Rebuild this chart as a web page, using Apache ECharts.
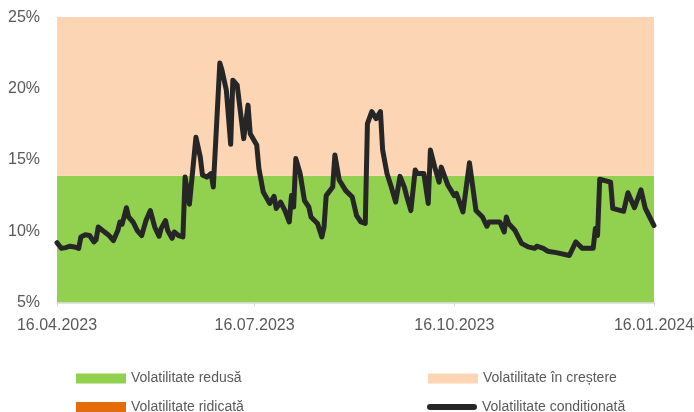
<!DOCTYPE html>
<html>
<head>
<meta charset="utf-8">
<script src="https://cdn.jsdelivr.net/npm/echarts@6/dist/echarts.min.js"></script>
<style>
html,body{margin:0;padding:0;background:#fff;}
#chart{width:694px;height:412px;}
</style>
</head>
<body>
<div id="chart"></div>
<script>
// ---- data ----
var startDate = '2023-04-16';
var endDate = '2024-01-16';
var tickDates = ['2023-04-16', '2023-07-16', '2023-10-16', '2024-01-16'];
var tickLabels = ['16.04.2023', '16.07.2023', '16.10.2023', '16.01.2024'];
var yTicks = ['5%', '10%', '15%', '20%', '25%'];
var seriesNames = ['Volatilitate redusă', 'Volatilitate în creștere', 'Volatilitate ridicată', 'Volatilitate condiționată'];

var lowThreshold = 13.9;   // upper limit of "Volatilitate redusă"
var highThreshold = 25;    // upper limit of "Volatilitate în creștere"

var pointDates = [
 '2023-04-16','2023-04-18','2023-04-20','2023-04-22','2023-04-24','2023-04-26','2023-04-27','2023-04-29',
 '2023-05-01','2023-05-03','2023-05-04','2023-05-05','2023-05-07','2023-05-10','2023-05-12','2023-05-14',
 '2023-05-15','2023-05-16','2023-05-18','2023-05-19','2023-05-21','2023-05-23','2023-05-25','2023-05-27',
 '2023-05-29','2023-05-31','2023-06-02','2023-06-03','2023-06-05','2023-06-06','2023-06-08','2023-06-09',
 '2023-06-11','2023-06-13','2023-06-14','2023-06-16','2023-06-19','2023-06-21','2023-06-22','2023-06-24',
 '2023-06-26','2023-06-27','2023-06-30','2023-07-01','2023-07-03','2023-07-05','2023-07-06','2023-07-08',
 '2023-07-11','2023-07-13','2023-07-14','2023-07-17','2023-07-18','2023-07-20','2023-07-23','2023-07-25',
 '2023-07-26','2023-07-28','2023-07-30','2023-08-01','2023-08-02','2023-08-03','2023-08-04','2023-08-06',
 '2023-08-08','2023-08-10','2023-08-11','2023-08-14','2023-08-16','2023-08-17','2023-08-18','2023-08-21',
 '2023-08-22','2023-08-24','2023-08-27','2023-08-30','2023-09-01','2023-09-03','2023-09-05','2023-09-06',
 '2023-09-08','2023-09-10','2023-09-12','2023-09-13','2023-09-15','2023-09-17','2023-09-19','2023-09-21',
 '2023-09-23','2023-09-24','2023-09-26','2023-09-28','2023-09-29','2023-10-02','2023-10-04','2023-10-05',
 '2023-10-07','2023-10-09','2023-10-10','2023-10-13','2023-10-16','2023-10-17','2023-10-20','2023-10-23',
 '2023-10-26','2023-10-29','2023-10-31','2023-11-01','2023-11-06','2023-11-08','2023-11-09','2023-11-10',
 '2023-11-13','2023-11-16','2023-11-19','2023-11-22','2023-11-23','2023-11-26','2023-11-28','2023-12-02',
 '2023-12-08','2023-12-11','2023-12-14','2023-12-19','2023-12-20','2023-12-21','2023-12-22','2023-12-27',
 '2023-12-28','2024-01-02','2024-01-04','2024-01-07','2024-01-10','2024-01-12','2024-01-14','2024-01-16'
];
var volatility = [
 9.2, 8.8, 8.85, 8.95, 8.9, 8.8, 9.6, 9.75,
 9.7, 9.25, 9.4, 10.3, 10.05, 9.7, 9.35, 10.05,
 10.65, 10.5, 11.65, 11.0, 10.65, 10.05, 9.7, 10.75,
 11.45, 10.3, 9.65, 10.2, 10.75, 10.05, 9.5, 9.95,
 9.7, 9.6, 13.8, 11.9, 16.6, 15.2, 13.95, 13.8,
 14.05, 13.1, 21.8, 21.3, 19.9, 16.1, 20.6, 20.25,
 16.5, 18.85, 16.85, 16.05, 14.4, 12.75, 11.95, 12.45,
 11.6, 12.05, 11.45, 10.65, 12.5, 11.7, 15.1, 14.05,
 12.15, 11.7, 11.0, 10.55, 9.6, 10.3, 12.5, 13.1,
 15.35, 13.6, 12.85, 12.4, 11.1, 10.65, 10.55, 17.55,
 18.4, 17.9, 18.4, 15.7, 14.05, 13.1, 12.05, 13.85,
 13.1, 12.5, 11.45, 14.3, 14.05, 14.05, 11.95, 15.7,
 14.5, 13.45, 14.5, 13.25, 12.5, 12.65, 11.35, 14.8,
 11.45, 11.0, 10.35, 10.65, 10.65, 9.95, 11.0, 10.55,
 10.05, 9.15, 8.9, 8.8, 8.95, 8.8, 8.6, 8.5,
 8.3, 9.25, 8.8, 8.8, 10.2, 9.7, 13.65, 13.45,
 11.6, 11.4, 12.7, 11.65, 12.9, 11.6, 11.0, 10.4
];

// ---- build ----
function pad(n){ return (n < 10 ? '0' : '') + n; }
var categories = [];
(function(){
  var d = new Date(startDate + 'T00:00:00Z');
  var e = new Date(endDate + 'T00:00:00Z');
  while (d <= e) {
    categories.push(d.getUTCFullYear() + '-' + pad(d.getUTCMonth() + 1) + '-' + pad(d.getUTCDate()));
    d = new Date(d.getTime() + 86400000);
  }
})();
var tickIndex = tickDates.map(function(t){ return categories.indexOf(t); });
function isTick(i){ return tickIndex.indexOf(i) >= 0; }

var lineData = pointDates.map(function(d, i){ return [d, volatility[i]]; });
function band(v){ return [[startDate, v], [endDate, v]]; }

var labelColor = '#595959';
var font = 'Liberation Sans, Arial, sans-serif';
var colors = ['#92d050', '#fcd5b5', '#e46c0a', '#262626'];

function legendItem(name, left, top, icon, h){
  return {
    orient: 'horizontal', left: left, top: top,
    itemWidth: 50, itemHeight: h, itemGap: 0, padding: 0,
    textStyle: {color: labelColor, fontFamily: font, fontSize: 14, lineHeight: 14},
    data: [{name: name, icon: icon}],
    selectedMode: false
  };
}
var capsule = 'path://M3,0 L47,0 A3,3 0 0 1 47,6 L3,6 A3,3 0 0 1 3,0 Z';

var chart = echarts.init(document.getElementById('chart'), null, {renderer: 'canvas'});
chart.setOption({
  animation: false,
  backgroundColor: '#ffffff',
  grid: {left: 57, right: 40, top: 17.5, bottom: 109.5, containLabel: false, outerBoundsMode: 'none'},
  xAxis: {
    type: 'category',
    data: categories,
    boundaryGap: false,
    axisLine: {show: true, lineStyle: {color: '#d9d9d9', width: 1.5}},
    axisTick: {show: true, interval: function(i){ return isTick(i); }, length: 4, lineStyle: {color: '#d9d9d9', width: 1}},
    axisLabel: {
      interval: function(i){ return isTick(i); },
      formatter: function(v){ var k = tickDates.indexOf(v); return k >= 0 ? tickLabels[k] : ''; },
      color: labelColor, fontFamily: font, fontSize: 16, lineHeight: 16, margin: 15
    },
    splitLine: {show: false}
  },
  yAxis: {
    type: 'value',
    min: 5, max: 25, interval: 5,
    axisLine: {show: false},
    axisTick: {show: false},
    splitLine: {show: false},
    axisLabel: {
      formatter: function(v){ return yTicks[Math.round((v - 5) / 5)]; },
      color: labelColor, fontFamily: font, fontSize: 16, margin: 17
    }
  },
  legend: [
    legendItem(seriesNames[0], 76, 371.5, 'rect', 10),
    legendItem(seriesNames[2], 76, 400, 'rect', 10),
    legendItem(seriesNames[1], 428, 371.5, 'rect', 10),
    legendItem(seriesNames[3], 427, 400, capsule, 6)
  ],
  series: [
    {
      name: seriesNames[0], type: 'line', stack: 'bands', data: band(lowThreshold),
      symbol: 'none', lineStyle: {width: 0}, itemStyle: {color: colors[0]},
      areaStyle: {color: colors[0], opacity: 1}, silent: true, z: 1
    },
    {
      name: seriesNames[1], type: 'line', stack: 'bands', data: band(highThreshold - lowThreshold),
      symbol: 'none', lineStyle: {width: 0}, itemStyle: {color: colors[1]},
      areaStyle: {color: colors[1], opacity: 1}, silent: true, z: 1
    },
    {
      name: seriesNames[2], type: 'line', stack: 'bands', data: band(10),
      symbol: 'none', lineStyle: {width: 0}, itemStyle: {color: colors[2]},
      areaStyle: {color: colors[2], opacity: 1}, silent: true, z: 1
    },
    {
      name: seriesNames[3], type: 'line', data: lineData,
      symbol: 'none', smooth: false, z: 5,
      itemStyle: {color: colors[3]},
      lineStyle: {color: colors[3], width: 5, join: 'round', cap: 'round'}
    }
  ]
});
</script>
</body>
</html>
